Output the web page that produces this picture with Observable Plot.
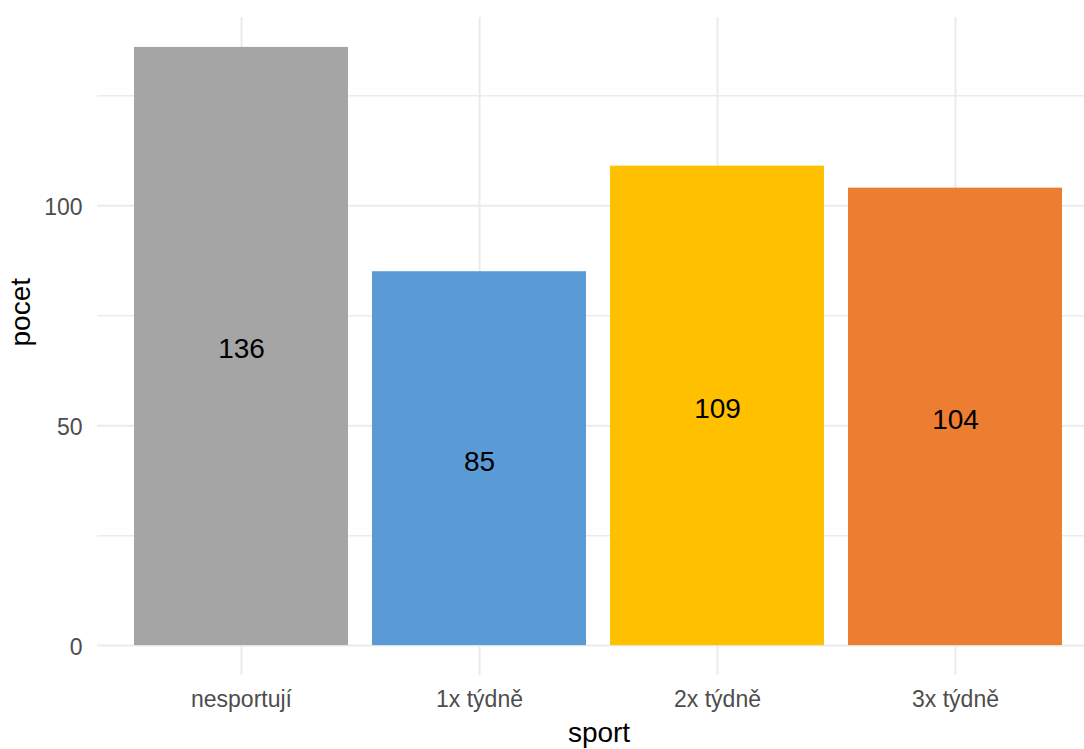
<!DOCTYPE html>
<html>
<head>
<meta charset="utf-8">
<script src="https://cdn.jsdelivr.net/npm/d3@7"></script>
<script src="https://cdn.jsdelivr.net/npm/@observablehq/plot@0.6"></script>
<style>
  html, body { margin: 0; padding: 0; background: #fff; overflow: hidden; }
  #chart svg { overflow: hidden; }
</style>
</head>
<body>
<div id="chart"></div>
<script>
const categories = ["nesportují", "1x týdně", "2x týdně", "3x týdně"];
const counts = [136, 85, 109, 104];
const palette = ["#A5A5A5", "#5B9BD5", "#FFC000", "#ED7D31"];
const yMajorTicks = [0, 50, 100];
const yMinorTicks = [25, 75, 125];
const xTitle = "sport";
const yTitle = "pocet";

const data = categories.map((c, i) => ({sport: c, pocet: counts[i]}));
const maxV = d3.max(counts);

const font = "'Liberation Sans', Arial, sans-serif";
const grid = "#ebebeb";
const tickCol = "#4d4d4d";

const chart = Plot.plot({
  width: 1084,
  height: 749,
  marginLeft: 97,
  marginRight: 0,
  marginTop: 17,
  marginBottom: 74,
  style: {fontFamily: font, background: "#fff"},
  x: {type: "band", domain: categories, range: [97, 1098.5], paddingInner: 0.1, paddingOuter: 0.15, axis: null},
  y: {domain: [-0.05 * maxV, 1.05 * maxV], axis: null},
  color: {type: "ordinal", domain: categories, range: palette},
  marks: [
    Plot.ruleY(yMinorTicks, {y: d => d, stroke: grid, strokeWidth: 1.5}),
    Plot.ruleY(yMajorTicks, {y: d => d, stroke: grid, strokeWidth: 2}),
    Plot.ruleX(categories, {x: d => d, stroke: grid, strokeWidth: 2}),
    Plot.barY(data, {x: "sport", y: "pocet", fill: "sport"}),
    Plot.text(data, {x: "sport", y: d => d.pocet / 2, text: d => String(d.pocet), dy: 3, fontSize: 28, fill: "#000"}),
    Plot.text(yMajorTicks, {y: d => d, text: d => String(d), frameAnchor: "left", textAnchor: "end", dx: -15, dy: 2, fontSize: 23, fill: tickCol}),
    Plot.text(categories, {x: d => d, text: d => d, frameAnchor: "bottom", dy: 31, fontSize: 23, fill: tickCol}),
    Plot.text([xTitle], {text: d => d, frameAnchor: "bottom", dx: 8, dy: 66, fontSize: 28, fill: "#000"}),
    Plot.text([yTitle], {text: d => d, frameAnchor: "left", rotate: -90, dx: -76, fontSize: 28, fill: "#000"})
  ]
});
document.getElementById("chart").appendChild(chart);
</script>
</body>
</html>
